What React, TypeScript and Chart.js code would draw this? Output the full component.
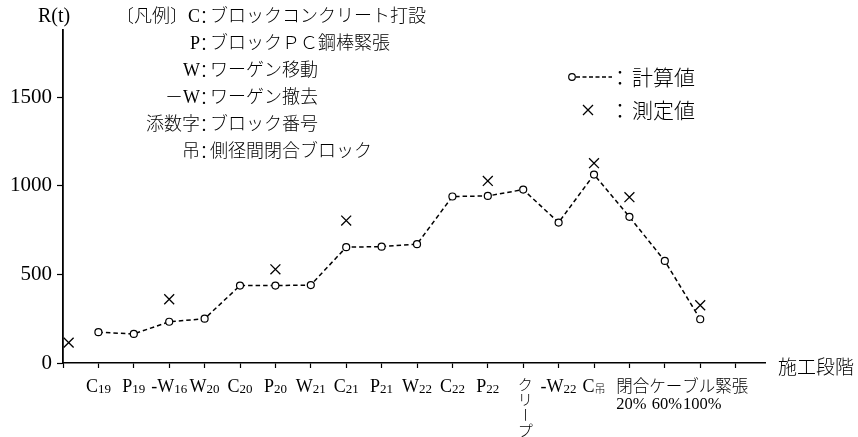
import React, { useEffect, useRef } from "react";
import { Chart, registerables } from "chart.js";

Chart.register(...registerables);

// ---- data ----
const STAGE_INDEX = [1, 2, 3, 4, 5, 6, 7, 8, 9, 10, 11, 12, 13, 14, 15, 16, 17, 18];
const STAGE_MAIN = ["C", "P", "-W", "W", "C", "P", "W", "C", "P", "W", "C", "P", "クリープ", "-W", "C", "20%", "60%", "100%"];
const STAGE_SUB = ["19", "19", "16", "20", "20", "20", "21", "21", "21", "22", "22", "22", "", "22", "吊", "", "", ""];
const CABLE_GROUP_LABEL = "閉合ケーブル緊張";
const CABLE_STAGES = [16, 17, 18];

const CALC_VALUES = [174, 164, 233, 250, 437, 437, 440, 654, 657, 671, 940, 943, 979, 793, 1064, 825, 576, 247];

const MEAS_STAGE = [0.16, 3, 6, 8, 12, 15, 16, 18];
const MEAS_VALUES = [115, 360, 529, 804, 1028, 1128, 936, 326];

const X_TICKS = [0, 1, 2, 3, 4, 5, 6, 7, 8, 9, 10, 11, 12, 13, 14, 15, 16, 17, 18, 19];
const Y_TICKS = [0, 500, 1000, 1500];

const Y_TITLE = "R(t)";
const X_TITLE = "施工段階";
const SERIES_NAMES = ["計算値", "測定値"];
const LEGEND_KEYS = ["〔凡例〕C", "P", "W", "－W", "添数字", "吊"];
const LEGEND_TEXTS = [
  "ブロックコンクリート打設",
  "ブロックＰＣ鋼棒緊張",
  "ワーゲン移動",
  "ワーゲン撤去",
  "ブロック番号",
  "側径間閉合ブロック",
];

const SERIF = "'Liberation Serif', 'DejaVu Serif', 'Noto Sans CJK JP', serif";
const CJK = "'Noto Sans CJK JP', sans-serif";

const annotPlugin = {
  id: "annot",
  afterDraw(chart: any) {
    const ctx: CanvasRenderingContext2D = chart.ctx;
    const xs = chart.scales.x;
    const area = chart.chartArea;
    ctx.save();
    ctx.fillStyle = "#000";
    ctx.strokeStyle = "#000";

    // x stage labels
    const row1 = area.bottom + 29;
    const row2 = area.bottom + 46;
    STAGE_INDEX.forEach((s, i) => {
      const px = xs.getPixelForValue(s);
      const main = STAGE_MAIN[i];
      const sub = STAGE_SUB[i];
      if (main === "クリープ") {
        ctx.font = `300 15px ${CJK}`;
        ctx.textAlign = "center";
        ctx.textBaseline = "middle";
        const chars = Array.from(main);
        chars.forEach((ch, k) => {
          const cy = area.bottom + 21 + k * 15.5;
          const cx = px + 2;
          if (ch === "ー") {
            ctx.save();
            ctx.translate(cx, cy);
            ctx.rotate(Math.PI / 2);
            ctx.fillText(ch, 0, 0);
            ctx.restore();
          } else {
            ctx.fillText(ch, cx, cy);
          }
        });
        return;
      }
      if (CABLE_STAGES.includes(s)) {
        ctx.font = `16.5px ${SERIF}`;
        ctx.textAlign = "center";
        ctx.textBaseline = "alphabetic";
        ctx.fillText(main, px + 2, row2);
        return;
      }
      ctx.textBaseline = "alphabetic";
      ctx.textAlign = "left";
      const mainFont = `18px ${SERIF}`;
      const subFont = sub === "吊" ? `300 11px ${CJK}` : `13px ${SERIF}`;
      ctx.font = mainFont;
      const mw = ctx.measureText(main).width;
      ctx.font = subFont;
      const sw = ctx.measureText(sub).width;
      const x0 = px - (mw + sw) / 2;
      ctx.font = mainFont;
      ctx.fillText(main, x0, row1);
      ctx.font = subFont;
      ctx.fillText(sub, x0 + mw, row1 + 1);
    });

    // cable group label
    {
      const first = CABLE_STAGES[0];
      const idx = STAGE_INDEX.indexOf(first);
      ctx.font = `16.5px ${SERIF}`;
      const w = ctx.measureText(STAGE_MAIN[idx]).width;
      const left = xs.getPixelForValue(first) + 2 - w / 2;
      ctx.font = `300 16.5px ${CJK}`;
      ctx.textAlign = "left";
      ctx.textBaseline = "middle";
      ctx.fillText(CABLE_GROUP_LABEL, left, area.bottom + 23);
    }

    // axis titles
    ctx.font = `20px ${SERIF}`;
    ctx.textAlign = "center";
    ctx.textBaseline = "middle";
    ctx.fillText(Y_TITLE, area.left - 9, 17);

    ctx.font = `300 19px ${CJK}`;
    ctx.textAlign = "left";
    ctx.fillText(X_TITLE, area.right + 13, area.bottom + 4);

    // left legend block
    const colonX = 204;
    LEGEND_KEYS.forEach((k, i) => {
      const cy = 17 + i * 27;
      ctx.textBaseline = "middle";
      ctx.font = `300 18px ${SERIF}`;
      ctx.textAlign = "right";
      ctx.fillText(k, colonX - 4, cy);
      ctx.textAlign = "center";
      ctx.font = `300 18px ${CJK}`;
      ctx.fillText("：", colonX, cy);
      ctx.textAlign = "left";
      ctx.font = `300 18px ${SERIF}`;
      ctx.fillText(LEGEND_TEXTS[i], colonX + 6, cy);
    });

    // right legend (series)
    const ly1 = 77;
    const ly2 = 110;
    ctx.lineWidth = 1.5;
    ctx.setLineDash([4, 2.5]);
    ctx.beginPath();
    ctx.moveTo(576, ly1);
    ctx.lineTo(612, ly1);
    ctx.stroke();
    ctx.setLineDash([]);
    ctx.lineWidth = 1.2;
    ctx.fillStyle = "#fff";
    ctx.beginPath();
    ctx.arc(572, ly1, 3.3, 0, Math.PI * 2);
    ctx.fill();
    ctx.stroke();
    ctx.fillStyle = "#000";
    ctx.lineWidth = 1.3;
    ctx.beginPath();
    ctx.moveTo(583, ly2 - 5);
    ctx.lineTo(593, ly2 + 5);
    ctx.moveTo(593, ly2 - 5);
    ctx.lineTo(583, ly2 + 5);
    ctx.stroke();

    ctx.font = `300 21px ${CJK}`;
    ctx.textBaseline = "middle";
    ctx.textAlign = "center";
    ctx.fillText("：", 620, ly1);
    ctx.fillText("：", 620, ly2);
    ctx.textAlign = "left";
    ctx.fillText(SERIES_NAMES[0], 632, ly1);
    ctx.fillText(SERIES_NAMES[1], 632, ly2);

    ctx.restore();
  },
};

export default function App() {
  const ref = useRef<HTMLCanvasElement | null>(null);

  useEffect(() => {
    if (!ref.current) return;
    const calcData = STAGE_INDEX.map((s, i) => ({ x: s, y: CALC_VALUES[i] }));
    const measData = MEAS_STAGE.map((s, i) => ({ x: s, y: MEAS_VALUES[i] }));

    const chart = new Chart(ref.current, {
      type: "line",
      data: {
        datasets: [
          {
            label: SERIES_NAMES[0],
            data: calcData,
            borderColor: "#000",
            borderWidth: 1.5,
            borderDash: [4.5, 3],
            pointStyle: "circle",
            pointRadius: 3.5,
            pointBorderWidth: 1.2,
            pointBackgroundColor: "#fff",
            pointBorderColor: "#000",
            fill: false,
            tension: 0,
          },
          {
            label: SERIES_NAMES[1],
            data: measData,
            showLine: false,
            borderColor: "#000",
            pointStyle: "crossRot",
            pointRadius: 7,
            pointBorderWidth: 1.3,
            pointBorderColor: "#000",
          },
        ],
      },
      options: {
        responsive: false,
        animation: false,
        devicePixelRatio: 1,
        layout: { padding: { top: 30, right: 93, left: 0, bottom: 0 } },
        plugins: { legend: { display: false }, tooltip: { enabled: false }, title: { display: false } },
        scales: {
          x: {
            type: "linear",
            min: 0,
            max: 19.83,
            afterBuildTicks: (scale: any) => {
              scale.ticks = X_TICKS.map((v) => ({ value: v }));
            },
            afterFit: (scale: any) => {
              scale.height = 74;
            },
            ticks: { display: false },
            grid: {
              display: true,
              drawOnChartArea: false,
              drawTicks: true,
              tickLength: 5,
              tickColor: "#000",
              tickWidth: 1.2,
            },
            border: { display: true, color: "#000", width: 1.5 },
          },
          y: {
            type: "linear",
            min: 0,
            max: 1880,
            afterBuildTicks: (scale: any) => {
              scale.ticks = Y_TICKS.map((v) => ({ value: v }));
            },
            afterFit: (scale: any) => {
              scale.width = 63;
            },
            ticks: {
              color: "#000",
              font: { family: SERIF, size: 21 },
              padding: 5,
              callback: (v: any) => String(v),
            },
            grid: {
              display: true,
              drawOnChartArea: false,
              drawTicks: true,
              tickLength: 6,
              tickColor: "#000",
              tickWidth: 1.2,
            },
            border: { display: true, color: "#000", width: 1.8 },
          },
        },
      },
      plugins: [annotPlugin],
    } as any);

    return () => chart.destroy();
  }, []);

  return (
    <div style={{ position: "absolute", left: 0, top: 0, width: 858, height: 437, background: "#fff" }}>
      <canvas ref={ref} width={858} height={437} style={{ width: 858, height: 437, display: "block" }} />
    </div>
  );
}
